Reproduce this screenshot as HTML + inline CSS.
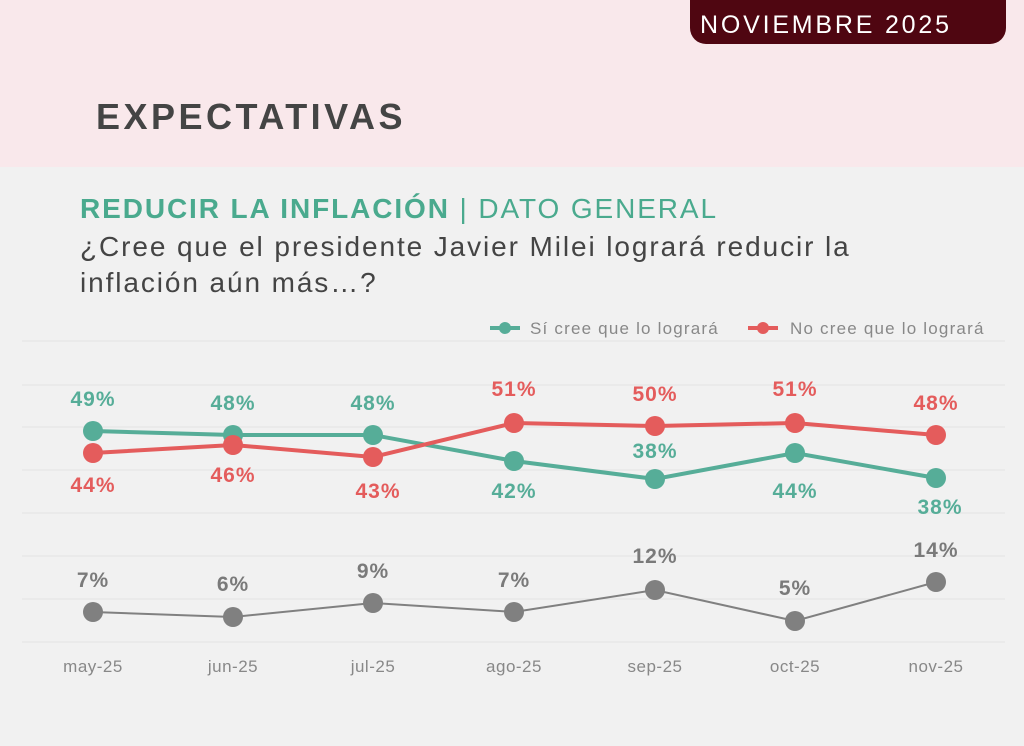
<!DOCTYPE html><html><head><meta charset="utf-8"><style>
body{margin:0;width:1024px;height:746px;overflow:hidden;background:#f1f1f1;font-family:"Liberation Sans",sans-serif}
.top{position:absolute;left:0;top:0;width:1024px;height:167px;background:#f9e8eb}
.badge{position:absolute;left:690px;top:-10px;width:316px;height:54px;background:#4f0611;border-radius:0 0 16px 16px;color:#fff;font-size:25px;line-height:54px;padding-left:10px;box-sizing:border-box;padding-top:8px;letter-spacing:2.8px;white-space:nowrap}
.h1{position:absolute;left:96px;top:96px;font-size:36px;font-weight:bold;color:#444;letter-spacing:3.5px}
.h2{position:absolute;left:80px;top:193px;font-size:28px;color:#4aaa8e;letter-spacing:1.9px;white-space:nowrap}
.q{position:absolute;left:80px;top:229px;font-size:28px;color:#444;line-height:36px;letter-spacing:1.9px;white-space:nowrap}
</style></head><body>
<div class="top"></div>
<div class="badge">NOVIEMBRE 2025</div>
<div class="h1">EXPECTATIVAS</div>
<div class="h2"><b>REDUCIR LA INFLACIÓN</b> | DATO GENERAL</div>
<div class="q">¿Cree que el presidente Javier Milei logrará reducir la<br>inflación aún más…?</div>
<svg width="1024" height="746" style="position:absolute;left:0;top:0" font-family="Liberation Sans, sans-serif">
<g stroke="#e2e2e2" stroke-width="1">
<line x1="22" x2="1005" y1="341" y2="341"/><line x1="22" x2="1005" y1="385" y2="385"/><line x1="22" x2="1005" y1="427" y2="427"/><line x1="22" x2="1005" y1="470" y2="470"/><line x1="22" x2="1005" y1="513" y2="513"/><line x1="22" x2="1005" y1="556" y2="556"/><line x1="22" x2="1005" y1="599" y2="599"/><line x1="22" x2="1005" y1="642" y2="642"/>
</g>
<line x1="490" x2="520" y1="328" y2="328" stroke="#56ad98" stroke-width="4"/><circle cx="505" cy="328" r="6" fill="#56ad98"/>
<text x="530" y="334" font-size="17" letter-spacing="1.2" fill="#888">Sí cree que lo logrará</text>
<line x1="748" x2="778" y1="328" y2="328" stroke="#e45c5c" stroke-width="4"/><circle cx="763" cy="328" r="6" fill="#e45c5c"/>
<text x="790" y="334" font-size="17" letter-spacing="1.2" fill="#888">No cree que lo logrará</text>
<polyline points="93,612 233,617 373,603 514,612 655,590 795,621 936,582" fill="none" stroke="#808080" stroke-width="2"/>
<g fill="#808080"><circle cx="93" cy="612" r="10"/><circle cx="233" cy="617" r="10"/><circle cx="373" cy="603" r="10"/><circle cx="514" cy="612" r="10"/><circle cx="655" cy="590" r="10"/><circle cx="795" cy="621" r="10"/><circle cx="936" cy="582" r="10"/></g>
<polyline points="93,431 233,435 373,435 514,461 655,479 795,453 936,478" fill="none" stroke="#56ad98" stroke-width="4"/>
<g fill="#56ad98"><circle cx="93" cy="431" r="10"/><circle cx="233" cy="435" r="10"/><circle cx="373" cy="435" r="10"/><circle cx="514" cy="461" r="10"/><circle cx="655" cy="479" r="10"/><circle cx="795" cy="453" r="10"/><circle cx="936" cy="478" r="10"/></g>
<polyline points="93,453 233,445 373,457 514,423 655,426 795,423 936,435" fill="none" stroke="#e45c5c" stroke-width="4"/>
<g fill="#e45c5c"><circle cx="93" cy="453" r="10"/><circle cx="233" cy="445" r="10"/><circle cx="373" cy="457" r="10"/><circle cx="514" cy="423" r="10"/><circle cx="655" cy="426" r="10"/><circle cx="795" cy="423" r="10"/><circle cx="936" cy="435" r="10"/></g>
<g font-size="21" font-weight="bold" letter-spacing="1" text-anchor="middle" fill="#56ad98">
<text x="93" y="406">49%</text><text x="233" y="410">48%</text><text x="373" y="410">48%</text><text x="514" y="498">42%</text><text x="655" y="458">38%</text><text x="795" y="498">44%</text><text x="940" y="514">38%</text></g>
<g font-size="21" font-weight="bold" letter-spacing="1" text-anchor="middle" fill="#e45c5c">
<text x="93" y="492">44%</text><text x="233" y="482">46%</text><text x="378" y="498">43%</text><text x="514" y="396">51%</text><text x="655" y="401">50%</text><text x="795" y="396">51%</text><text x="936" y="410">48%</text></g>
<g font-size="21" font-weight="bold" letter-spacing="1" text-anchor="middle" fill="#7a7a7a">
<text x="93" y="587">7%</text><text x="233" y="591">6%</text><text x="373" y="578">9%</text><text x="514" y="587">7%</text><text x="655" y="563">12%</text><text x="795" y="595">5%</text><text x="936" y="557">14%</text></g>
<g font-size="17" letter-spacing="0.5" text-anchor="middle" fill="#888">
<text x="93" y="672">may-25</text><text x="233" y="672">jun-25</text><text x="373" y="672">jul-25</text><text x="514" y="672">ago-25</text><text x="655" y="672">sep-25</text><text x="795" y="672">oct-25</text><text x="936" y="672">nov-25</text></g>
</svg>
</body></html>
